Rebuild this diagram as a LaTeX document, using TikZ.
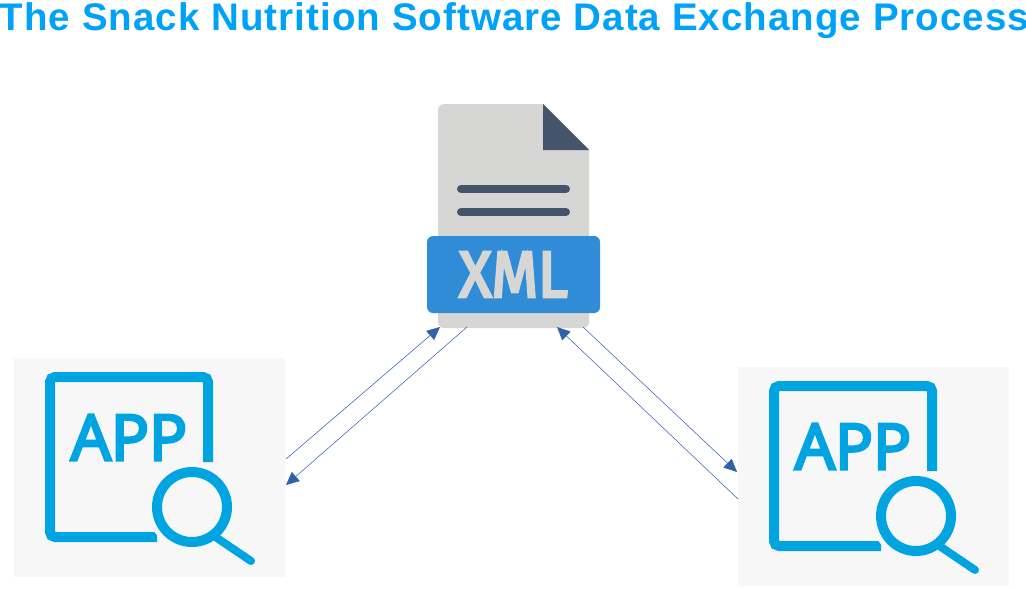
\documentclass[tikz,border=0pt]{standalone}
\usepackage{fontspec}
\usepackage{tikz}
\usetikzlibrary{arrows.meta}
\setmainfont{Liberation Sans}
\newfontfamily\titlefont[LetterSpace=2.75]{Liberation Sans}
\newfontfamily\appfont[FakeBold=4.5]{Open Sans}
\newfontfamily\xmlfont[FakeBold=4.5]{Fira Sans}
\definecolor{titleblue}{HTML}{00A2F8}
\definecolor{appblue}{HTML}{00A4E1}
\definecolor{panelgray}{HTML}{F7F7F7}
\definecolor{filegray}{HTML}{D6D6D4}
\definecolor{filedark}{HTML}{44546A}
\definecolor{bannerblue}{HTML}{318CD8}
\definecolor{linkblue}{HTML}{2F62A8}
\tikzset{
  panel/.style={fill=panelgray, minimum width=2.71cm, minimum height=2.19cm, inner sep=0},
  link/.style={linkblue, line width=0.15pt, -{Triangle[length=1.3mm, width=1.2mm]}},
  appicon/.pic={
    \draw[appblue, line width=1mm, rounded corners=0.5mm]
      (0.585,0.055) -- (0.585,0.905) -- (-0.995,0.905) -- (-0.995,-0.695) -- (0.075,-0.695);
    \node[appblue, font=\appfont\fontsize{18pt}{18pt}\selectfont] (-apptext) at (-0.205,0.30) {APP};
    \draw[panelgray, line width=1.6mm] (0.425,-0.395) circle (0.37);
    \draw[appblue, line width=1mm] (0.425,-0.395) circle (0.35);
    \draw[appblue, line width=0.8mm, line cap=round] (0.675,-0.705) -- (1.015,-0.935);
  }
}

\begin{document}
\begin{tikzpicture}

\useasboundingbox (0,0) rectangle (10.26,5.88);

\node[titleblue, anchor=base, font=\titlefont\bfseries\fontsize{10.95pt}{10.95pt}\selectfont] (title) at (5.145,5.58)
  {The Snack Nutrition Software Data Exchange Process};

% panels
\node[panel] (appleft) at (1.495,1.205) {};
\node[panel] (appright) at (8.735,1.115) {};
\pic (iconleft) at (appleft.center) {appicon};
\pic (iconright) at (appright.center) {appicon};

% xml file
\node[fill=filegray, rounded corners=0.6mm, minimum width=1.51cm, minimum height=2.24cm, inner sep=0] (xmlfile) at (5.135,3.72) {};
\fill[white] (5.43,4.84) -- (5.90,4.84) -- (5.90,4.38) -- cycle;
\fill[filedark] (5.43,4.84) -- (5.89,4.38) -- (5.43,4.38) -- cycle;
\draw[filedark, line width=0.8mm, line cap=round] (4.61,3.99) -- (5.66,3.99);
\draw[filedark, line width=0.8mm, line cap=round] (4.61,3.76) -- (5.66,3.76);
\node[fill=bannerblue, rounded corners=0.6mm, minimum width=1.73cm, minimum height=0.77cm, inner sep=0] (xmlbanner) at (5.135,3.135) {};
\node[text=filegray, xscale=0.92, font=\xmlfont\fontsize{18.5pt}{18.5pt}\selectfont] (xmlword) at (xmlbanner.center) {XML};

% ends of the links
\coordinate (leftup) at (2.86,1.29);
\coordinate (leftdown) at (2.86,1.03);
\coordinate (fileleftin) at (4.40,2.61);
\coordinate (fileleftout) at (4.67,2.61);
\coordinate (fileout) at (5.83,2.61);
\coordinate (filein) at (5.57,2.61);
\coordinate (rightin) at (7.37,1.16);
\coordinate (rightout) at (7.38,0.89);

\draw[link] (leftup) -- (fileleftin);
\draw[link] (fileleftout) -- (leftdown);
\draw[link] (fileout) -- (rightin);
\draw[link] (rightout) -- (filein);

\end{tikzpicture}
\end{document}
